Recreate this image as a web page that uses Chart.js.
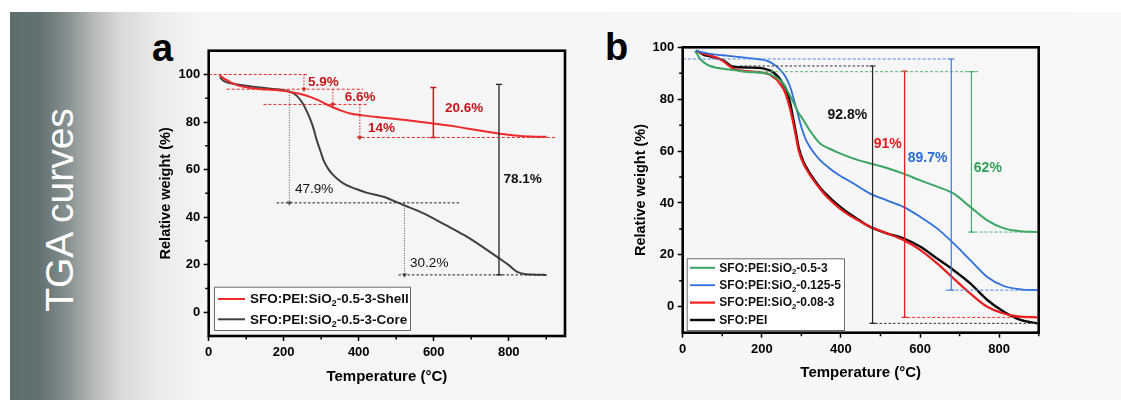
<!DOCTYPE html>
<html><head><meta charset="utf-8">
<script src="https://cdn.jsdelivr.net/npm/chart.js@4.4.0/dist/chart.umd.min.js"></script>
<style>
html,body{margin:0;padding:0;background:#fff;}
#page{position:relative;width:1121px;height:400px;overflow:hidden;background:#fff;font-family:'Liberation Sans',Arial,sans-serif;}
#panel{position:absolute;left:10px;top:12px;width:1111px;height:388px;
 background:linear-gradient(to right,#5e6d6d 0px,#627171 30px,#8a9494 60px,#b9bcbc 85px,#d9d9d9 110px,#ebebeb 150px,#f5f5f5 190px,#f7f7f7 100%);}
#tga{position:absolute;left:59px;top:210px;transform:translate(-50%,-50%) rotate(-90deg);color:#fff;font-size:39px;white-space:nowrap;line-height:1;}
.lab{position:absolute;font-weight:bold;font-size:38px;color:#000;line-height:1;}
canvas{position:absolute;top:0;}
</style></head>
<body>
<div id="page">
 <div id="panel"></div>
 <div id="tga">TGA curves</div>
 <div class="lab" style="left:152px;top:29px;">a</div>
 <div class="lab" style="left:605px;top:28px;">b</div>
 <canvas id="ca" width="590" height="400" style="left:0;width:590px;height:400px;"></canvas>
 <canvas id="cb" width="531" height="400" style="left:590px;width:531px;height:400px;"></canvas>
</div>
<script>
const FONT = "'Liberation Sans', Arial, sans-serif";

// ================= Panel a data =================
const shellName = 'SFO:PEI:SiO₂-0.5-3-Shell';
const coreName = 'SFO:PEI:SiO₂-0.5-3-Core';
const shellTemp = [28, 35, 45, 60, 80, 110, 140, 170, 200, 225, 250, 270, 290, 310, 332, 355, 377, 410, 466, 530, 599, 650, 688, 730, 777, 810, 839, 870, 901];
const shellWeight = [99.7, 99.0, 97.9, 96.6, 95.3, 94.3, 93.8, 93.5, 93.1, 92.4, 91.6, 90.6, 89.3, 87.8, 86.1, 84.7, 83.6, 82.8, 81.8, 80.7, 79.4, 78.3, 77.3, 76.2, 75.1, 74.4, 74.0, 73.8, 73.8];
const coreTemp = [30, 40, 55, 75, 100, 130, 160, 200, 220, 235, 248, 260, 270, 280, 288, 298, 306, 318, 328, 345, 359, 377, 395, 420, 466, 519, 560, 599, 640, 688, 730, 768, 800, 821, 845, 870, 901];
const coreWeight = [98.8, 97.3, 96.4, 95.8, 95.3, 94.6, 94.1, 93.4, 92.6, 91.0, 88.5, 85.0, 81.5, 77.0, 72.4, 67.8, 64.0, 60.5, 58.4, 55.8, 54.2, 52.8, 51.7, 50.3, 48.6, 45.1, 42.5, 39.5, 36.0, 31.8, 27.5, 23.4, 19.8, 17.1, 16.0, 15.8, 15.7];
const xTicksA = [0, 200, 400, 600, 800];
const xMinorA = [100, 300, 500, 700, 900];
const yTicksA = [0, 20, 40, 60, 80, 100];
const yMinorA = [10, 30, 50, 70, 90];
// step annotations (values in data units)
const shellLevelY = [100, 93.8, 87.4, 73.5];
const shellLevelX0 = [0, 48, 146, 395];
const shellLevelX1 = [265, 412, 426, 923];
const shellStepX = [254, 331, 403];
const shellStepTop = [100, 93.8, 87.4];
const shellStepBottom = [93.8, 87.4, 73.5];
const shellSpan = [599, 94.5, 73.5];
const coreLevelY = [46, 15.7];
const coreLevelX0 = [181, 506];
const coreLevelX1 = [670, 901];
const coreStepX = [215, 522];
const coreStepTop = [92.5, 46];
const coreStepBottom = [46, 15.7];
const coreSpan = [774, 95.8, 15.7];
const labelTextA = ['5.9%', '6.6%', '14%', '20.6%', '47.9%', '30.2%', '78.1%'];
const labelXA = [265, 363, 425, 630, 230, 537, 786];
const labelYA = [96.9, 90.2, 77.3, 85.7, 51.7, 20.6, 55.9];

// ================= Panel b data =================
const greenName = 'SFO:PEI:SiO₂-0.5-3';
const blueName = 'SFO:PEI:SiO₂-0.125-5';
const redName = 'SFO:PEI:SiO₂-0.08-3';
const blackName = 'SFO:PEI';
const greenTemp = [31, 38, 44, 55, 69, 90, 111, 140, 162, 196, 215, 229, 242, 255, 268, 280, 292, 305, 318, 333, 348, 370, 390, 432, 474, 520, 558, 601, 643, 685, 727, 770, 812, 854, 896];
const greenWeight = [98.7, 97.0, 95.5, 94.0, 92.8, 92.0, 91.5, 91.0, 90.5, 90.2, 89.8, 89.0, 87.8, 85.9, 82.3, 78.8, 75.0, 72.0, 68.7, 65.5, 62.8, 61.0, 59.6, 57.1, 55.2, 53.3, 51.3, 48.7, 46.3, 43.6, 38.5, 33.3, 30.2, 29.1, 28.8];
const blueTemp = [35, 50, 69, 90, 111, 140, 162, 196, 215, 229, 242, 255, 264, 272, 280, 289, 301, 311, 322, 335, 348, 370, 390, 432, 474, 516, 558, 601, 643, 685, 727, 770, 812, 854, 896];
const blueWeight = [98.7, 98.0, 97.5, 97.1, 96.8, 96.3, 95.9, 95.3, 94.7, 93.6, 92.0, 89.8, 87.5, 84.6, 80.5, 75.5, 68.8, 64.5, 61.5, 58.7, 56.4, 53.5, 51.3, 47.5, 43.6, 41.0, 38.5, 34.6, 30.2, 24.4, 18.0, 11.5, 8.0, 6.7, 6.4];
const redTemp = [35, 48, 61, 78, 94, 103, 111, 120, 128, 145, 162, 204, 220, 229, 238, 246, 255, 263, 271, 280, 287, 293, 305, 318, 331, 348, 365, 390, 415, 445, 474, 516, 558, 601, 643, 685, 727, 770, 812, 854, 896];
const redWeight = [98.5, 97.8, 97.2, 96.4, 95.5, 94.6, 93.6, 92.6, 91.7, 91.1, 90.8, 90.2, 89.5, 88.5, 87.5, 85.9, 83.8, 80.8, 76.5, 70.5, 65.0, 60.3, 55.2, 51.7, 48.7, 45.3, 42.3, 38.8, 35.9, 33.2, 30.8, 28.3, 25.7, 21.8, 16.7, 10.9, 5.1, 0.0, -2.6, -3.8, -4.1];
const blackTemp = [34, 43, 52, 69, 86, 103, 112, 120, 130, 145, 165, 187, 205, 221, 232, 242, 252, 263, 271, 280, 287, 293, 305, 318, 331, 348, 365, 390, 415, 445, 474, 516, 558, 601, 643, 685, 727, 770, 812, 854, 896];
const blackWeight = [98.7, 98.0, 97.2, 96.5, 95.8, 94.9, 93.9, 93.0, 92.5, 92.3, 92.2, 92.1, 91.8, 91.0, 90.0, 88.5, 86.3, 83.3, 79.0, 72.0, 66.5, 61.5, 56.0, 52.3, 49.3, 45.8, 43.0, 39.5, 36.5, 33.5, 30.8, 28.3, 26.4, 23.1, 18.6, 14.1, 9.0, 2.6, -1.9, -5.1, -6.4];
const xTicksB = [0, 200, 400, 600, 800];
const xMinorB = [100, 300, 500, 700, 900];
const yTicksB = [0, 20, 40, 60, 80, 100];
const yMinorB = [10, 30, 50, 70, 90];
const blueLevelY = [95.5, 6.4], blueLevelX0 = [0, 664], blueLevelX1 = [685, 900];
const blueSpan = [679, 95.5, 6.4];
const blackLevelY = [92.8, -6.4], blackLevelX0 = [145, 475], blackLevelX1 = [483, 900];
const blackSpan = [480, 92.8, -6.4];
const greenLevelY = [90.6, 28.8], greenLevelX0 = [145, 725], greenLevelX1 = [748, 900];
const greenSpan = [730, 90.6, 28.8];
const redLevelY = [-4.1], redLevelX0 = [555], redLevelX1 = [900];
const redSpan = [561, 90.8, -4.1];
const labelTextB = ['92.8%', '91%', '89.7%', '62%'];
const labelXB = [366, 483, 569, 736];
const labelYB = [73.7, 62.8, 57.3, 53.6];

// ================= helpers =================
function pts(xs, ys) { return xs.map((x, i) => ({x: x, y: ys[i]})); }
function series(label, xs, ys, color, width) {
  return {label: label, data: pts(xs, ys), borderColor: color, backgroundColor: color, borderWidth: width,
    pointRadius: 0, cubicInterpolationMode: 'monotone', fill: false, isSeries: true, order: 1};
}
function levels(ys, x0s, x1s, color, dash) {
  return ys.map((y, i) => ({data: [{x: x0s[i], y: y}, {x: x1s[i], y: y}], borderColor: color, borderWidth: 1,
    borderDash: dash, pointRadius: 0, order: 0}));
}
function arrows(xs, tops, bottoms, color, dash) {
  return xs.map((x, i) => ({data: [{x: x, y: tops[i]}, {x: x, y: bottoms[i]}], borderColor: color, borderWidth: 1,
    borderDash: dash, pointRadius: [0, 2.4], pointStyle: 'triangle', pointRotation: 180,
    pointBackgroundColor: color, pointBorderColor: color, pointBorderWidth: 0.5, order: 0}));
}
function span(s, color, width) {
  return {data: [{x: s[0], y: s[1]}, {x: s[0], y: s[2]}], borderColor: color, borderWidth: width,
    pointRadius: 3, pointStyle: 'line', pointBorderColor: color, pointBorderWidth: width, order: 0};
}
function drawSubText(ctx, text, x, y, size) {
  const parts = text.split('₂');
  let cx = x;
  ctx.textBaseline = 'middle'; ctx.textAlign = 'left';
  parts.forEach((p, i) => {
    ctx.font = 'bold ' + size + 'px ' + FONT;
    ctx.fillText(p, cx, y); cx += ctx.measureText(p).width;
    if (i < parts.length - 1) {
      ctx.font = 'bold ' + (size * 0.65) + 'px ' + FONT;
      ctx.fillText('2', cx, y + size * 0.32); cx += ctx.measureText('2').width;
    }
  });
}
function framePlugin(xMinor, yMinor) {
  return {id: 'frame', afterDatasetsDraw(chart) {
    const ctx = chart.ctx, a = chart.chartArea, sx = chart.scales.x, sy = chart.scales.y;
    ctx.save();
    ctx.strokeStyle = '#000'; ctx.lineWidth = 1.5;
    ctx.beginPath();
    xMinor.forEach(v => { const p = sx.getPixelForValue(v); ctx.moveTo(p, a.bottom); ctx.lineTo(p, a.bottom + 3.5); });
    yMinor.forEach(v => { const p = sy.getPixelForValue(v); ctx.moveTo(a.left, p); ctx.lineTo(a.left - 3.5, p); });
    ctx.stroke();
    ctx.lineWidth = 2.6;
    ctx.strokeRect(a.left, a.top, a.right - a.left, a.bottom - a.top);
    ctx.restore();
  }};
}
function legendPlugin(L) {
  return {id: 'boxLegend', afterDraw(chart) {
    const ctx = chart.ctx, a = chart.chartArea;
    const items = chart.data.datasets.filter(d => d.isSeries);
    const x = a.left + L.dx, y = a.bottom + L.dy;
    ctx.save();
    ctx.fillStyle = '#ffffff'; ctx.fillRect(x, y, L.w, L.h);
    ctx.strokeStyle = '#6a6a6a'; ctx.lineWidth = 1; ctx.strokeRect(x + 0.5, y + 0.5, L.w, L.h);
    items.forEach((d, i) => {
      const cy = y + L.first + i * L.step;
      ctx.strokeStyle = d.borderColor; ctx.lineWidth = d.borderWidth;
      ctx.beginPath(); ctx.moveTo(x + L.lx0, cy); ctx.lineTo(x + L.lx1, cy); ctx.stroke();
      ctx.fillStyle = '#111';
      drawSubText(ctx, d.label, x + L.tx, cy + 0.5, L.size);
    });
    ctx.restore();
  }};
}
function textPlugin(texts, xs, ys, colors, weights, size) {
  return {id: 'pctLabels', afterDatasetsDraw(chart) {
    const ctx = chart.ctx, sx = chart.scales.x, sy = chart.scales.y;
    ctx.save();
    ctx.textAlign = 'left'; ctx.textBaseline = 'middle';
    texts.forEach((t, i) => {
      ctx.font = weights[i] + ' ' + size + 'px ' + FONT;
      ctx.fillStyle = colors[i];
      ctx.fillText(t, sx.getPixelForValue(xs[i]), sy.getPixelForValue(ys[i]));
    });
    ctx.restore();
  }};
}
function axes(cfg) {
  const tickFont = {family: FONT, size: 13, weight: 'bold'};
  const titleFont = {family: FONT, size: 15, weight: 'bold'};
  return {
    x: {type: 'linear', min: cfg.xmin, max: cfg.xmax,
      afterBuildTicks: s => { s.ticks = cfg.xTicks.map(v => ({value: v})); },
      afterFit: s => { s.height = cfg.xh; },
      grid: {drawOnChartArea: false, drawTicks: true, tickLength: 5, tickWidth: 1.5, tickColor: '#000'},
      border: {display: false},
      ticks: {color: '#000', font: tickFont, padding: 4, maxRotation: 0, autoSkip: false, callback: v => String(v)},
      title: {display: true, text: 'Temperature (°C)', color: '#000', font: titleFont, padding: {top: 0, bottom: cfg.xTitlePad}}},
    y: {type: 'linear', min: cfg.ymin, max: cfg.ymax,
      afterBuildTicks: s => { s.ticks = cfg.yTicks.map(v => ({value: v})); },
      afterFit: s => { s.width = cfg.yw; },
      grid: {drawOnChartArea: false, drawTicks: true, tickLength: 5, tickWidth: 1.5, tickColor: '#000'},
      border: {display: false},
      ticks: {color: '#000', font: tickFont, padding: 3.5, callback: v => String(v)},
      title: {display: true, text: 'Relative weight (%)', color: '#000', font: {family: FONT, size: 14.5, weight: 'bold'}, padding: {top: cfg.yTitlePad, bottom: 0}}}
  };
}

// ================= Chart a =================
const RED_A = '#ee2a2a', DARK_A = '#404040', RED_TXT = '#c8161c';
const dsA = [
  series(shellName, shellTemp, shellWeight, RED_A, 2),
  series(coreName, coreTemp, coreWeight, DARK_A, 2),
  ...levels(shellLevelY, shellLevelX0, shellLevelX1, '#e02a2a', [3, 2]),
  ...arrows(shellStepX, shellStepTop, shellStepBottom, '#d42020', [1.5, 1.5]),
  span(shellSpan, '#c8161c', 1.5),
  ...levels(coreLevelY, coreLevelX0, coreLevelX1, '#222', [2.5, 2]),
  ...arrows(coreStepX, coreStepTop, coreStepBottom, '#555', [1, 1.5]),
  span(coreSpan, '#222', 1.3)
];
new Chart(document.getElementById('ca'), {
  type: 'line',
  data: {datasets: dsA},
  options: {
    responsive: false, animation: false, events: [],
    layout: {padding: {left: 150, right: 25, top: 50.7, bottom: 0}},
    scales: axes({xmin: 0, xmax: 950, ymin: -10, ymax: 110, xTicks: xTicksA, yTicks: yTicksA, xh: 64, yw: 58.7, xTitlePad: 14.3, yTitlePad: 7.7}),
    plugins: {legend: {display: false}, tooltip: {enabled: false}}
  },
  plugins: [
    framePlugin(xMinorA, yMinorA),
    textPlugin(labelTextA, labelXA, labelYA,
      [RED_TXT, RED_TXT, RED_TXT, RED_TXT, '#111', '#111', '#111'],
      ['bold', 'bold', 'bold', 'bold', 'normal', 'normal', 'bold'], 13.5),
    legendPlugin({dx: 5.3, dy: -49.3, w: 196, h: 43.3, first: 12.3, step: 20.3, lx0: 4, lx1: 31, tx: 36, size: 13.5})
  ]
});

// ================= Chart b =================
const GREEN = '#3aa562', BLUE = '#2f6fdc', RED_B = '#ee1c1c', BLACK_B = '#0a0a0a';
const dsB = [
  series(greenName, greenTemp, greenWeight, GREEN, 2),
  series(blueName, blueTemp, blueWeight, BLUE, 1.8),
  series(redName, redTemp, redWeight, RED_B, 2.2),
  series(blackName, blackTemp, blackWeight, BLACK_B, 2.4),
  ...levels(blueLevelY, blueLevelX0, blueLevelX1, '#4a86e8', [3, 2]),
  span(blueSpan, '#3a78e0', 1.2),
  ...levels(blackLevelY, blackLevelX0, blackLevelX1, '#333', [2.5, 2]),
  span(blackSpan, '#222', 1.2),
  ...levels(greenLevelY, greenLevelX0, greenLevelX1, '#4cb46e', [3, 2]),
  span(greenSpan, '#45ad68', 1.2),
  ...levels(redLevelY, redLevelX0, redLevelX1, '#ee2a2a', [3, 2]),
  span(redSpan, '#e81c1c', 1.3)
];
new Chart(document.getElementById('cb'), {
  type: 'line',
  data: {datasets: dsB},
  options: {
    responsive: false, animation: false, events: [],
    layout: {padding: {left: 30, right: 82.3, top: 47.3, bottom: 0}},
    scales: axes({xmin: 0, xmax: 900, ymin: -10, ymax: 100, xTicks: xTicksB, yTicks: yTicksB, xh: 67.3, yw: 62.7, xTitlePad: 18.5, yTitlePad: 12}),
    plugins: {legend: {display: false}, tooltip: {enabled: false}}
  },
  plugins: [
    framePlugin(xMinorB, yMinorB),
    textPlugin(labelTextB, labelXB, labelYB, ['#111', '#e41a1c', '#2a6ad6', '#33a05a'], ['bold', 'bold', 'bold', 'bold'], 14),
    legendPlugin({dx: 4, dy: -74.4, w: 157.3, h: 71.7, first: 9.5, step: 17.4, lx0: 3.3, lx1: 28.3, tx: 32.6, size: 12})
  ]
});
</script>
</body></html>
